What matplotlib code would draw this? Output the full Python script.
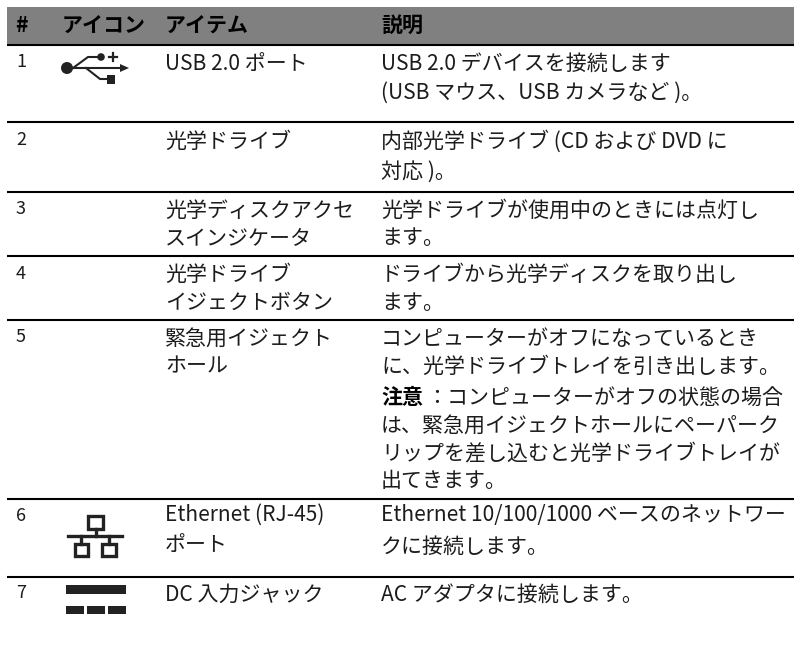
import matplotlib
matplotlib.use("Agg")
import matplotlib.pyplot as plt
from matplotlib.patches import Rectangle, Circle, Polygon

FONT = ['Noto Sans CJK JP', 'DejaVu Sans']
plt.rcParams['font.family'] = FONT

# ---- content ----
headers = ['#', 'アイコン', 'アイテム', '説明']
numbers = ['1', '2', '3', '4', '5', '6', '7']
items = ['USB 2.0 ポート', '光学ドライブ', '光学ディスクアクセ', 'スインジケータ',
         '光学ドライブ', 'イジェクトボタン', '緊急用イジェクト', 'ホール',
         'Ethernet (RJ-45)', 'ポート', 'DC 入力ジャック']
descs = ['USB 2.0 デバイスを接続します', '(USB マウス、USB カメラなど )。',
         '内部光学ドライブ (CD および DVD に', '対応 )。',
         '光学ドライブが使用中のときには点灯し', 'ます。',
         'ドライブから光学ディスクを取り出し', 'ます。',
         'コンピューターがオフになっているとき', 'に、光学ドライブトレイを引き出します。',
         None,
         'は、緊急用イジェクトホールにペーパーク', 'リップを差し込むと光学ドライブトレイが', '出てきます。',
         'Ethernet 10/100/1000 ベースのネットワー', 'クに接続します。',
         'AC アダプタに接続します。']
note_label = '注意'
note_text = '：コンピューターがオフの状態の場合'

# ---- layout (pixels) ----
W, H = 794, 649
fig = plt.figure(figsize=(W / 100, H / 100), dpi=100)
ax = fig.add_axes([0, 0, 1, 1])
ax.set_xlim(0, W)
ax.set_ylim(H, 0)
ax.axis('off')

INK = '#1c1c1c'
FS = 15.1
ax.add_patch(Rectangle((7, 7), W - 7, 37, fc='#808080', ec='none'))
for y in [44.8, 122, 191.7, 255.7, 320, 499, 576.7]:
    ax.plot([7, W], [y, y], color='black', lw=1.5, solid_capstyle='butt')

for s, x in zip(headers, [15, 62, 165, 381]):
    ax.text(x, 32, s, fontsize=FS, fontweight='bold', color='black', va='baseline')

for s, y in zip(numbers, [67, 145, 214, 279, 342, 521, 598]):
    ax.text(16, y, s, fontsize=13, color=INK, va='baseline')

item_y = [70, 148, 217, 244, 281, 309, 345, 372, 521, 551, 601]
for s, y in zip(items, item_y):
    ax.text(165, y, s, fontsize=FS, color=INK, va='baseline')

desc_y = [70, 99, 148, 178, 217, 244, 281, 309, 345, 373, 404, 432, 460, 487, 521, 553, 601]
for s, y in zip(descs, desc_y):
    if s is not None:
        ax.text(381, y, s, fontsize=FS, color=INK, va='baseline')
ax.text(381, 404, note_label, fontsize=FS, fontweight='bold', color='black', va='baseline')
ax.text(426, 404, note_text, fontsize=FS, color=INK, va='baseline')

# ---- icons ----
IC = '#222222'
# USB
ax.add_patch(Circle((67, 68), 6, fc=IC, ec='none'))
ax.plot([67, 122], [68, 68], color=IC, lw=1.5)
ax.add_patch(Polygon([[120, 64], [129, 68], [120, 72]], fc=IC, ec='none'))
ax.plot([73, 88, 100], [68, 57, 57], color=IC, lw=1.5)
ax.add_patch(Circle((101, 57), 3.8, fc=IC, ec='none'))
ax.plot([109, 117], [57, 57], color=IC, lw=1.6)
ax.plot([113, 113], [53, 61], color=IC, lw=1.6)
ax.plot([86, 100, 108], [68, 79, 79], color=IC, lw=1.5)
ax.add_patch(Rectangle((107, 75), 8, 8.5, fc=IC, ec='none'))
# Ethernet
LW = 2.4
ax.add_patch(Rectangle((88, 516), 15, 13, fc='none', ec=IC, lw=LW))
ax.plot([95.5, 95.5], [529, 536], color=IC, lw=LW)
ax.plot([68, 122], [536, 536], color=IC, lw=LW)
ax.plot([81, 81], [536, 544], color=IC, lw=LW)
ax.plot([109, 109], [536, 544], color=IC, lw=LW)
ax.add_patch(Rectangle((74.5, 544), 13.5, 12, fc='none', ec=IC, lw=LW))
ax.add_patch(Rectangle((102, 544), 14, 12, fc='none', ec=IC, lw=LW))
# DC
ax.add_patch(Rectangle((66, 585), 59.5, 9, fc=IC, ec='none'))
for x0, x1 in [(65.5, 84), (87, 105), (108, 125.5)]:
    ax.add_patch(Rectangle((x0, 606), x1 - x0, 8, fc=IC, ec='none'))

fig.savefig('out.png', dpi=100)
